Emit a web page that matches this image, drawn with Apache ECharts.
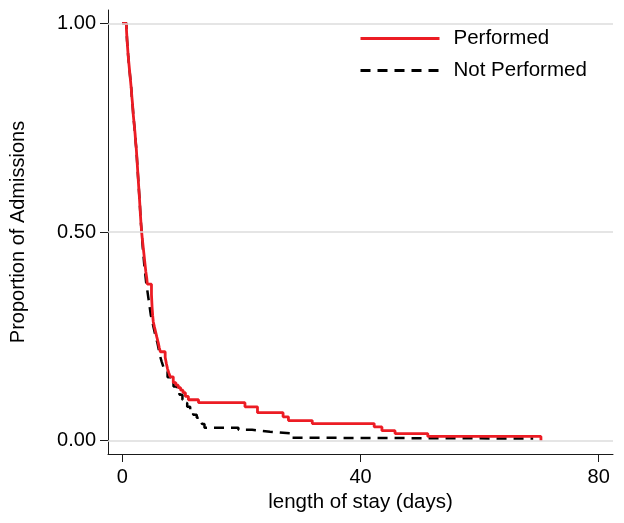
<!DOCTYPE html>
<html>
<head>
<meta charset="utf-8">
<script src="https://cdn.jsdelivr.net/npm/echarts@6/dist/echarts.min.js"></script>
<style>
html,body{margin:0;padding:0;background:#fff;}
#chart{width:624px;height:523px;}
</style>
</head>
<body>
<div id="chart"></div>
<script>
// Kaplan-Meier style step data: time (days) at which the proportion drops, and the new proportion
const perfTime = [0, 0.7, 0.8, 0.9, 1.0, 1.1, 1.2, 1.3, 1.4, 1.5, 1.6, 1.7, 1.85, 1.95, 2.05, 2.15, 2.25, 2.35, 2.45, 2.55, 2.65, 2.75, 2.85, 2.95, 3.05, 3.15, 3.25, 3.35, 3.5, 3.65, 3.8, 3.95, 4.1, 4.2, 4.9, 5.0, 5.1, 5.2, 5.4, 5.6, 5.8, 6.05, 6.2, 6.4, 7.2, 7.4, 7.6, 7.8, 8.05, 8.56, 9.0, 9.4, 9.8, 10.2, 10.6, 11.1, 12.8, 20.6, 22.7, 27.0, 27.9, 31.9, 42.3, 43.6, 45.8, 51.3, 70.3];
const perfSurv = [1.0, 0.985, 0.96, 0.94, 0.92, 0.905, 0.89, 0.875, 0.86, 0.845, 0.825, 0.81, 0.78, 0.765, 0.75, 0.735, 0.715, 0.70, 0.678, 0.655, 0.632, 0.61, 0.588, 0.565, 0.54, 0.518, 0.50, 0.485, 0.465, 0.445, 0.425, 0.405, 0.39, 0.375, 0.35, 0.32, 0.30, 0.285, 0.272, 0.26, 0.248, 0.234, 0.223, 0.213, 0.20, 0.185, 0.172, 0.163, 0.153, 0.139, 0.133, 0.127, 0.121, 0.115, 0.106, 0.098, 0.091, 0.081, 0.067, 0.057, 0.048, 0.041, 0.033, 0.024, 0.017, 0.010, 0.0];
const notTime = [0, 0.7, 0.8, 0.9, 1.0, 1.1, 1.2, 1.3, 1.4, 1.5, 1.6, 1.7, 1.85, 1.95, 2.05, 2.15, 2.25, 2.35, 2.45, 2.55, 2.65, 2.75, 2.85, 2.95, 3.05, 3.15, 3.25, 3.4, 3.55, 3.7, 3.85, 4.0, 4.2, 4.4, 4.6, 4.8, 5.0, 5.2, 5.4, 5.6, 5.9, 6.1, 6.3, 6.6, 6.9, 7.2, 7.6, 8.0, 8.6, 9.2, 9.6, 10.1, 10.5, 10.9, 11.4, 11.9, 12.5, 13.1, 13.4, 13.8, 19.5, 21.8, 24.8, 28.5, 29.5, 69.0];
const notSurv = [1.0, 0.985, 0.96, 0.94, 0.92, 0.905, 0.89, 0.875, 0.86, 0.845, 0.825, 0.81, 0.78, 0.765, 0.75, 0.735, 0.715, 0.70, 0.678, 0.655, 0.632, 0.61, 0.588, 0.565, 0.54, 0.518, 0.50, 0.47, 0.445, 0.42, 0.40, 0.38, 0.36, 0.34, 0.32, 0.30, 0.289, 0.275, 0.262, 0.25, 0.234, 0.22, 0.205, 0.19, 0.177, 0.165, 0.152, 0.141, 0.13, 0.122, 0.11, 0.098, 0.09, 0.081, 0.07, 0.062, 0.055, 0.048, 0.04, 0.031, 0.026, 0.0215, 0.017, 0.007, 0.005, 0.005];
const seriesNames = ['Performed', 'Not Performed'];
const xTicks = [0, 40, 80];
const yTicks = [0, 0.5, 1];

const FONT = '"Liberation Sans", Arial, Helvetica, sans-serif';
const chart = echarts.init(document.getElementById('chart'), null, {renderer: 'canvas'});
const toPairs = (t, s) => t.map((v, i) => [v, s[i]]);

chart.setOption({
  animation: false,
  backgroundColor: '#ffffff',
  textStyle: {fontFamily: FONT},
  grid: {left: 108, right: 11, top: 10, bottom: 69, containLabel: false},
  legend: {
    data: seriesNames,
    orient: 'vertical',
    left: 348,
    top: 18,
    padding: [10, 20, 10, 11],
    backgroundColor: '#ffffff',
    itemWidth: 79,
    itemHeight: 20,
    itemGap: 11,
    itemStyle: {opacity: 0, color: 'rgba(0,0,0,0)', borderColor: 'rgba(0,0,0,0)', borderWidth: 0},
    lineStyle: {width: 3},
    textStyle: {fontSize: 20.5, color: '#000', fontFamily: FONT, padding: [0, 0, 0, 9]}
  },
  xAxis: {
    type: 'value',
    min: -2.4,
    max: 82.4,
    name: 'length of stay (days)',
    nameLocation: 'middle',
    nameGap: 35,
    nameTextStyle: {fontSize: 20.5, color: '#000', fontFamily: FONT, verticalAlign: 'top'},
    axisLine: {show: true, onZero: false, lineStyle: {color: '#1a1a1a', width: 1}},
    axisTick: {show: true, customValues: xTicks, length: 8, lineStyle: {color: '#1a1a1a', width: 1}},
    axisLabel: {show: true, customValues: xTicks, margin: 13, fontSize: 20, color: '#000', fontFamily: FONT},
    splitLine: {show: false}
  },
  yAxis: {
    type: 'value',
    min: -0.032,
    max: 1.032,
    name: 'Proportion of Admissions',
    nameLocation: 'middle',
    nameGap: 80,
    nameTextStyle: {fontSize: 20, color: '#000', fontFamily: FONT},
    axisLine: {show: true, onZero: false, lineStyle: {color: '#1a1a1a', width: 1}},
    axisTick: {show: true, customValues: yTicks, length: 8, lineStyle: {color: '#1a1a1a', width: 1}},
    axisLabel: {show: true, customValues: yTicks, margin: 12, fontSize: 20, color: '#000', fontFamily: FONT,
      formatter: v => Number(v).toFixed(2)},
    splitLine: {show: false}
  },
  series: [
    {
      name: 'gridlines',
      type: 'line',
      data: [],
      z: 1,
      silent: true,
      markLine: {
        silent: true,
        symbol: ['none', 'none'],
        label: {show: false},
        lineStyle: {color: '#dddddd', width: 1.5, type: 'solid'},
        data: yTicks.map(v => ({yAxis: v}))
      }
    },
    {
      name: seriesNames[1],
      type: 'line',
      step: 'end',
      showSymbol: false,
      symbol: 'none',
      z: 3,
      data: toPairs(notTime, notSurv),
      lineStyle: {color: '#000000', width: 2.5, type: [10, 7]},
      itemStyle: {color: '#000000'}
    },
    {
      name: seriesNames[0],
      type: 'line',
      step: 'end',
      showSymbol: false,
      symbol: 'none',
      z: 4,
      data: toPairs(perfTime, perfSurv),
      lineStyle: {color: '#ec1c24', width: 2.8},
      itemStyle: {color: '#ec1c24'}
    }
  ]
});
</script>
</body>
</html>
